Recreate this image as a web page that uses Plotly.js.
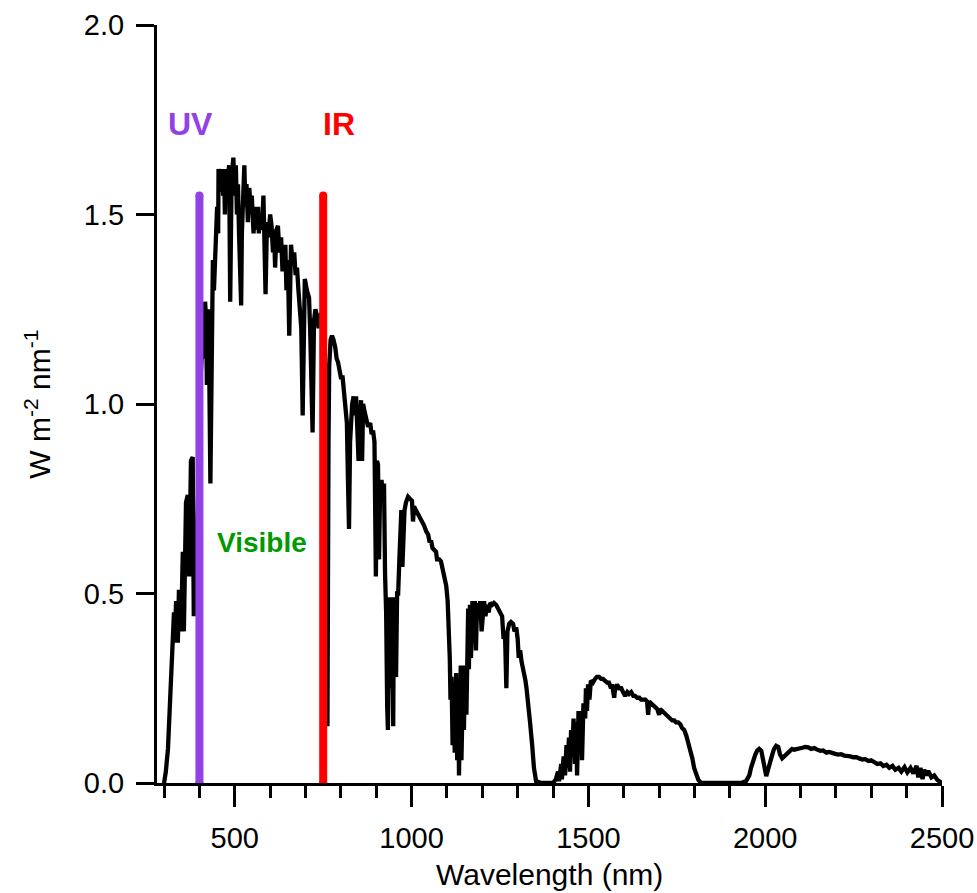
<!DOCTYPE html>
<html>
<head>
<meta charset="utf-8">
<script src="https://cdn.plot.ly/plotly-3.0.1.min.js"></script>
<style>html,body{margin:0;padding:0;background:#fff;}#chart{width:977px;height:893px;}</style>
</head>
<body>
<div id="chart"></div>
<script>
// Solar spectral irradiance (W m^-2 nm^-1)
const wlUV = [300, 305, 311, 316, 320, 325, 328, 330, 334, 339, 342, 348, 353, 356, 362, 367, 371, 376, 381, 384, 387, 392, 397, 402];
const irUV = [0, 0.03, 0.09, 0.18, 0.27, 0.36, 0.45, 0.37, 0.48, 0.37, 0.51, 0.40, 0.61, 0.40, 0.74, 0.76, 0.545, 0.85, 0.86, 0.44, 0.57, 0.62, 0.78, 1.05];

const wlVis = [408, 413, 416, 419, 421, 424, 426, 431, 436, 438, 441, 444, 447, 450, 453, 454, 458, 461, 464, 467, 470, 472, 475, 479, 484, 487, 491, 496, 499, 503,
  506, 509, 512, 516, 518, 520, 523, 527, 530, 533, 537, 541, 546, 548, 553, 557, 561, 566, 568, 571, 577, 581, 587, 591, 595, 600, 604, 608, 611, 614,
  618, 622, 626, 631, 635, 639, 643, 646, 650, 654, 659, 663, 668, 672, 676, 680, 684, 688, 692, 695, 698, 704, 710, 713, 716, 720, 724, 728, 733, 737,
  744, 750, 755, 759, 762, 765];
const irVis = [1.15, 1.12, 1.27, 1.22, 1.05, 1.15, 1.25, 0.79, 1.25, 1.38, 1.30, 1.40, 1.47, 1.52, 1.45, 1.62, 1.60, 1.56, 1.62, 1.55, 1.60, 1.50, 1.62, 1.58, 1.63, 1.27, 1.60, 1.65, 1.55, 1.63,
  1.50, 1.58, 1.45, 1.35, 1.26, 1.45, 1.55, 1.63, 1.52, 1.58, 1.48, 1.57, 1.50, 1.55, 1.45, 1.52, 1.46, 1.52, 1.45, 1.50, 1.46, 1.55, 1.29, 1.48, 1.44, 1.50, 1.47, 1.40, 1.46, 1.36,
  1.46, 1.47, 1.40, 1.44, 1.35, 1.40, 1.42, 1.30, 1.38, 1.18, 1.42, 1.38, 1.40, 1.34, 1.36, 1.30, 1.25, 1.20, 0.97, 1.28, 1.33, 1.30, 1.28, 1.20, 1.10, 0.925, 1.22, 1.25, 1.23, 1.20,
  1.24, 1.20, 1.10, 0.60, 0.15, 0.90];

const wlNIR = [767, 771, 775, 779, 784, 788, 792, 796, 800, 805, 809, 813, 817, 820, 823, 826, 829, 832, 836, 840, 843, 846, 850, 854, 857, 860, 863, 867, 871, 877,
  883, 887, 891, 895, 899, 902, 905, 908, 911, 915, 919, 922, 925, 928, 931, 933, 936, 939, 942, 945, 948, 950, 953, 956, 959, 962, 965, 969, 971, 974,
  977, 980, 984, 990, 995, 1001, 1004, 1007, 1012, 1018, 1024, 1030, 1035, 1041, 1047, 1051, 1055, 1059, 1064, 1069, 1072, 1078, 1083, 1088, 1092, 1098, 1102, 1105, 1108, 1110,
  1113, 1116, 1119, 1122, 1126, 1129, 1132, 1134, 1139, 1141, 1146, 1148, 1151, 1155, 1160, 1162, 1165, 1168, 1172, 1175, 1179, 1182, 1185, 1189, 1194, 1198, 1202, 1205, 1209, 1213,
  1218, 1222, 1228, 1233, 1239, 1245, 1250, 1256, 1260, 1264, 1268, 1271, 1276, 1281, 1287, 1291, 1296, 1300, 1303, 1307, 1311, 1316, 1322, 1325, 1329, 1335, 1341, 1346, 1352, 1366,
  1400];
const irNIR = [1.10, 1.17, 1.18, 1.17, 1.15, 1.12, 1.11, 1.09, 1.07, 1.07, 1.03, 1.02, 0.95, 0.80, 0.67, 0.90, 0.96, 1.00, 1.02, 0.97, 1.02, 0.95, 0.85, 0.96, 1.01, 0.85, 1.00, 0.98, 0.96, 0.94,
  0.95, 0.92, 0.93, 0.90, 0.545, 0.85, 0.84, 0.59, 0.78, 0.80, 0.75, 0.79, 0.55, 0.45, 0.20, 0.14, 0.40, 0.49, 0.25, 0.48, 0.15, 0.49, 0.30, 0.28, 0.50, 0.50, 0.58, 0.70, 0.72, 0.57,
  0.71, 0.72, 0.74, 0.755, 0.75, 0.745, 0.69, 0.73, 0.72, 0.71, 0.70, 0.69, 0.68, 0.665, 0.655, 0.635, 0.64, 0.62, 0.615, 0.61, 0.59, 0.59, 0.585, 0.56, 0.54, 0.52, 0.48, 0.42, 0.33, 0.22,
  0.28, 0.10, 0.26, 0.08, 0.29, 0.06, 0.25, 0.02, 0.31, 0.06, 0.30, 0.14, 0.31, 0.18, 0.46, 0.30, 0.47, 0.33, 0.48, 0.42, 0.48, 0.35, 0.475, 0.43, 0.48, 0.40, 0.46, 0.48, 0.44, 0.47,
  0.45, 0.475, 0.47, 0.475, 0.47, 0.46, 0.455, 0.44, 0.38, 0.40, 0.25, 0.40, 0.42, 0.425, 0.42, 0.40, 0.41, 0.38, 0.33, 0.35, 0.32, 0.30, 0.27, 0.25, 0.22, 0.16, 0.10, 0.04, 0.005, 0,
  0];

const wlSWIR1 = [1408, 1414, 1417, 1423, 1425, 1430, 1434, 1438, 1441, 1445, 1448, 1451, 1454, 1458, 1462, 1465, 1468, 1472, 1476, 1479, 1482, 1486, 1491, 1493, 1496, 1499, 1503, 1507, 1513, 1519,
  1524, 1530, 1536, 1541, 1547, 1553, 1558, 1564, 1567, 1573, 1575, 1581, 1587, 1593, 1598, 1604, 1610, 1615, 1621, 1627, 1632, 1638, 1644, 1649, 1655, 1661, 1666, 1669, 1672, 1678,
  1683, 1689, 1695, 1700, 1703, 1709, 1714, 1720, 1726, 1731, 1737, 1743, 1748, 1754, 1760, 1765, 1771, 1777, 1782, 1788, 1794, 1799, 1805, 1811, 1819, 1932];
const irSWIR1 = [0.01, 0.03, 0.005, 0.05, 0.01, 0.07, 0.02, 0.10, 0.04, 0.12, 0.03, 0.14, 0.07, 0.17, 0.05, 0.16, 0.02, 0.19, 0.11, 0.19, 0.06, 0.21, 0.17, 0.25, 0.19, 0.26, 0.22, 0.27, 0.265, 0.275,
  0.28, 0.28, 0.275, 0.275, 0.27, 0.265, 0.265, 0.25, 0.26, 0.225, 0.245, 0.26, 0.25, 0.25, 0.24, 0.23, 0.24, 0.235, 0.24, 0.23, 0.23, 0.225, 0.225, 0.22, 0.22, 0.22, 0.215, 0.18, 0.215, 0.21,
  0.205, 0.20, 0.195, 0.18, 0.195, 0.19, 0.185, 0.18, 0.175, 0.17, 0.165, 0.165, 0.16, 0.16, 0.155, 0.145, 0.14, 0.125, 0.11, 0.09, 0.065, 0.04, 0.02, 0.008, 0, 0];

const wlSWIR2 = [1946, 1955, 1960, 1966, 1972, 1977, 1983, 1989, 1994, 2000, 2003, 2008, 2014, 2020, 2025, 2031, 2037, 2042, 2048, 2054, 2059, 2065, 2071, 2076, 2082, 2088, 2096, 2105, 2113, 2122,
  2130, 2139, 2147, 2156, 2164, 2173, 2181, 2190, 2198, 2207, 2215, 2224, 2232, 2241, 2249, 2258, 2266, 2275, 2283, 2292, 2300, 2309, 2317, 2326, 2334, 2343, 2351, 2360, 2368, 2377,
  2385, 2394, 2402, 2411, 2419, 2428, 2433, 2439, 2445, 2450, 2456, 2461, 2470, 2478, 2487, 2495, 2500];
const irSWIR2 = [0.005, 0.02, 0.04, 0.06, 0.075, 0.085, 0.09, 0.085, 0.06, 0.025, 0.018, 0.035, 0.06, 0.075, 0.09, 0.098, 0.095, 0.075, 0.065, 0.07, 0.075, 0.08, 0.085, 0.09, 0.088, 0.09, 0.092, 0.093, 0.095, 0.094,
  0.09, 0.092, 0.088, 0.085, 0.086, 0.08, 0.082, 0.078, 0.077, 0.075, 0.076, 0.072, 0.072, 0.07, 0.068, 0.068, 0.065, 0.062, 0.063, 0.058, 0.06, 0.055, 0.05, 0.052, 0.045, 0.048, 0.04, 0.045, 0.035, 0.04,
  0.03, 0.042, 0.028, 0.04, 0.025, 0.045, 0.015, 0.04, 0.01, 0.035, 0.02, 0.032, 0.015, 0.02, 0.008, 0.003, 0];

const wavelength = [].concat(wlUV, wlVis, wlNIR, wlSWIR1, wlSWIR2);
const irradiance = [].concat(irUV, irVis, irNIR, irSWIR1, irSWIR2);

// Band boundary markers
const uvBoundaryNm = 400;
const irBoundaryNm = 750;
const boundaryY = [0, 1.55];

// Band labels
const bandLabels = ["UV", "IR", "Visible"];
const bandLabelX = [376, 795, 577];
const bandLabelY = [1.74, 1.74, 0.635];
const bandColors = ["#9241e6", "#ff0000", "#009900"];

// Axis ticks and titles
const xTicks = [500, 1000, 1500, 2000, 2500];
const yTicks = [0, 0.5, 1.0, 1.5, 2.0];
const yTickText = ["0.0", "0.5", "1.0", "1.5", "2.0"];
const xTitle = "Wavelength (nm)";
const yTitle = "W m<sup>-2</sup> nm<sup>-1</sup>";

const FONT = "Liberation Sans, Arial, Helvetica, sans-serif";

const traces = [
  {x: wavelength, y: irradiance, type: "scatter", mode: "lines",
   line: {color: "#000", width: 4.3}, hoverinfo: "skip"},
  {x: [uvBoundaryNm, uvBoundaryNm], y: boundaryY, type: "scatter", mode: "lines+markers",
   line: {color: bandColors[0], width: 8}, marker: {color: bandColors[0], size: 8}, hoverinfo: "skip"},
  {x: [irBoundaryNm, irBoundaryNm], y: boundaryY, type: "scatter", mode: "lines+markers",
   line: {color: bandColors[1], width: 8}, marker: {color: bandColors[1], size: 8}, hoverinfo: "skip"}
];

const annotations = bandLabels.map((t, i) => ({
  text: "<b>" + t + "</b>", x: bandLabelX[i], y: bandLabelY[i], xref: "x", yref: "y",
  showarrow: false, xanchor: "center", yanchor: "middle",
  font: {family: FONT, size: i === 2 ? 28 : 32, color: bandColors[i]}
}));
// axis titles placed precisely
annotations.push({
  text: xTitle, xref: "paper", yref: "paper", x: 0.5, y: -0.121, xanchor: "center", yanchor: "middle",
  showarrow: false, font: {family: FONT, size: 30, color: "#000"}
});
annotations.push({
  text: yTitle, xref: "paper", yref: "paper", x: -0.152, y: 0.5, xanchor: "center", yanchor: "middle",
  textangle: -90, showarrow: false, font: {family: FONT, size: 30, color: "#000"}
});

const layout = {
  width: 977, height: 893,
  margin: {l: 157, r: 35, t: 25, b: 110, pad: 0},
  paper_bgcolor: "#fff", plot_bgcolor: "#fff",
  showlegend: false,
  font: {family: FONT, color: "#000", size: 29},
  xaxis: {
    range: [280, 2500], tickvals: xTicks, ticks: "outside", ticklen: 21, tickwidth: 3, tickcolor: "#000",
    showline: true, linewidth: 3, linecolor: "#000", showgrid: false, zeroline: false, automargin: false,
    tickfont: {family: FONT, size: 29, color: "#000"}, ticklabelstandoff: 6,
    minor: {dtick: 100, tick0: 0, ticks: "outside", ticklen: 12, tickwidth: 3, tickcolor: "#000", showgrid: false}
  },
  yaxis: {
    range: [0, 2.0], tickvals: yTicks, ticktext: yTickText, ticks: "outside", ticklen: 18, tickwidth: 3, tickcolor: "#000",
    showline: true, linewidth: 3, linecolor: "#000", showgrid: false, zeroline: false, automargin: false,
    tickfont: {family: FONT, size: 29, color: "#000"}, ticklabelstandoff: 6
  },
  annotations: annotations
};

Plotly.newPlot("chart", traces, layout, {staticPlot: true, displayModeBar: false});
</script>
</body>
</html>
